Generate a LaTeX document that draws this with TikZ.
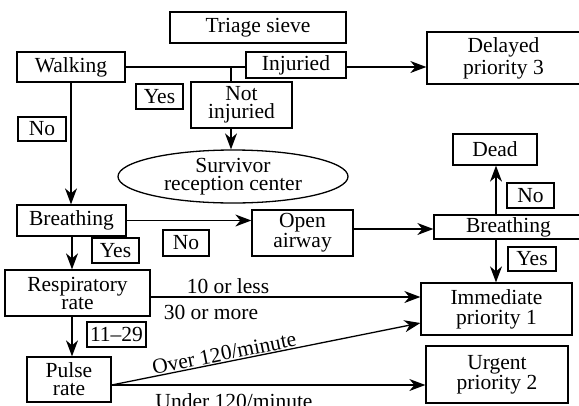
\documentclass[tikz,border=0pt]{standalone}
\usepackage{fontspec}
\setmainfont{Liberation Serif}
\usetikzlibrary{arrows.meta,shapes.geometric}
\begin{document}
\begin{tikzpicture}[x=1pt,y=-1pt,
 bx/.style={draw, line width=1.3pt, inner sep=0pt, align=center, font=\fontsize{21.5}{18}\selectfont},
 lbl/.style={inner sep=0pt, font=\fontsize{21.5}{18}\selectfont},
 ln/.style={line width=1.3pt},
 arr/.style={line width=1.3pt, -{Stealth[length=16pt,width=12pt,inset=5pt]}}]
\useasboundingbox (0,0) rectangle (579,405);
\clip (0,0) rectangle (579,405);
\node[bx, minimum width=176, minimum height=31] (sieve) at (258,27.5) {Triage sieve};
\node[bx, minimum width=108, minimum height=30] (walk) at (71,67) {Walking};
\node[bx, minimum width=100, minimum height=26] (inj) at (296,65) {Injuried};
\node[bx, minimum width=101, minimum height=46] (notinj) at (241.5,105) {Not\\injuried};
\node[bx, minimum width=47, minimum height=25] (yes1) at (159.5,96.5) {Yes};
\node[bx, minimum width=48, minimum height=24] (no1) at (42,129) {No};
\node[bx, ellipse, minimum width=230, minimum height=53] (surv) at (233,176.5) {Survivor\\reception center};
\node[bx, minimum width=153, minimum height=52, font=\fontsize{21.5}{22}\selectfont] (delay) at (503.5,58) {Delayed\\priority 3};
\node[bx, minimum width=84, minimum height=31] (dead) at (495,149.5) {Dead};
\node[bx, minimum width=109, minimum height=31] (br1) at (71.5,220.5) {Breathing};
\node[bx, minimum width=101, minimum height=46, font=\fontsize{21.5}{20}\selectfont] (open) at (302.5,233) {Open\\airway};
\node[bx, minimum width=46, minimum height=26] (no2) at (186,243) {No};
\node[bx, minimum width=47, minimum height=25] (yes2) at (115.5,250.5) {Yes};
\node[bx, minimum width=149, minimum height=24] (br2) at (508.5,227) {Breathing};
\node[bx, minimum width=47, minimum height=25] (no3) at (530.5,195.5) {No};
\node[bx, minimum width=48, minimum height=24] (yes3) at (532,259) {Yes};
\node[bx, minimum width=151, minimum height=52, font=\fontsize{21.5}{20}\selectfont] (imm) at (496.5,309) {Immediate\\priority 1};
\node[bx, minimum width=145, minimum height=46] (resp) at (77.5,293) {Respiratory\\rate};
\node[bx, minimum width=59, minimum height=25] (r1129) at (116.5,334.5) {11--29};
\node[bx, minimum width=84, minimum height=45] (pulse) at (69,379.5) {Pulse\\rate};
\node[bx, minimum width=142, minimum height=57, font=\fontsize{21.5}{20}\selectfont] (urg) at (497,374.5) {Urgent\\priority 2};
\coordinate (j1) at (231,67);
\coordinate (cx) at (72,0);
\coordinate (cx2) at (496,0);
\draw[ln] (walk.east) -- (walk.east -| inj.west);
\draw[ln] (j1) -- (j1 |- notinj.north);
\draw[arr] (j1 |- notinj.south) -- (j1 |- surv.north);
\draw[arr] (inj.east |- j1) -- (delay.west |- j1);
\draw[arr] (walk.south) -- (walk.south |- br1.north);
\draw[arr] (br1.east) -- (br1.east -| open.west);
\draw[arr] (cx |- br1.south) -- (cx |- resp.north);
\draw[arr] ([yshift=-4pt]resp.east) -- ([yshift=-4pt]resp.east -| imm.west);
\node[lbl] (l10) at (228,286) {10 or less};
\node[lbl] (l30) at (211,312) {30 or more};
\draw[arr] (cx |- resp.south) -- (cx |- pulse.north);
\draw[arr] ([yshift=-5.5pt]pulse.east) -- node[lbl, sloped, above, pos=0.37, yshift=1pt] (over) {Over 120/minute} ([yshift=-14pt]imm.west);
\draw[arr] ([yshift=-5.5pt]pulse.east) -- ([yshift=-5.5pt]pulse.east -| urg.west);
\node[lbl, anchor=base] (under) at (234,408) {Under 120/minute};
\draw[arr] ([yshift=4pt]open.east) -- ([yshift=4pt]open.east -| br2.west);
\draw[arr] (cx2 |- br2.north) -- (cx2 |- dead.south);
\draw[arr] (cx2 |- br2.south) -- (cx2 |- imm.north);
\end{tikzpicture}
\end{document}
